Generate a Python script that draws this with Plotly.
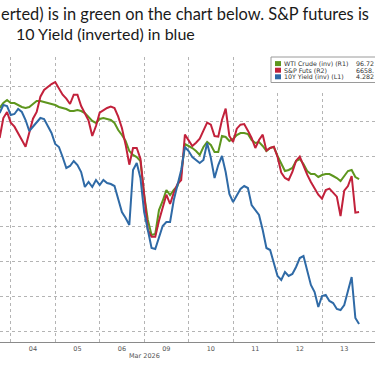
import plotly.graph_objects as go

# ---- data (hours since start of Mar 03 session; each trading day = 24h slot) ----
hours = list(range(18, 213, 2))
day_centers = [36, 60, 84, 108, 132, 156, 180, 204]
day_labels = ["04", "05", "06", "09", "10", "11", "12", "13"]
day_bounds = [24, 48, 72, 96, 120, 144, 168, 192]

wti_crude = [
    89.6, 89.1, 88.8,
    89.1, 89.1, 89.3, 89.5, 89.6, 89.5, 89.2, 88.9, 88.9, 89.0, 89.1, 89.2,
    89.3, 89.5, 89.6, 89.7, 89.9, 89.9, 89.8, 89.9, 90.1, 90.5, 90.9, 91.1,
    90.7, 90.6, 90.7, 90.8, 91.1, 91.8, 92.3, 92.9, 93.9, 94.3, 94.5, 94.9,
    98.3, 100.8, 102.3, 102.2, 99.8, 98.9, 97.8, 98.3, 97.8, 97.4, 96.2, 93.2,
    93.4, 93.6, 93.9, 94.3, 93.5, 93.0, 93.3, 94.0, 94.0, 92.4, 92.5, 92.9,
    92.7, 92.3, 92.1, 92.1, 92.2, 92.8, 93.1, 93.0, 93.4, 93.9, 93.6, 93.5,
    94.4, 95.1, 95.9, 95.8, 95.6, 94.9, 94.7, 95.2, 95.9, 96.2, 96.2, 96.5,
    96.3, 96.2, 96.2, 96.4, 96.6, 96.9, 96.4, 95.9, 95.8, 96.5, 96.72,
]
sp_futs = [
    6769, 6799, 6808,
    6792, 6786, 6777, 6766, 6756, 6777, 6798, 6808, 6831, 6841, 6846, 6850,
    6853, 6843, 6834, 6828, 6820, 6834, 6834, 6817, 6807, 6795, 6772, 6787,
    6807, 6811, 6814, 6816, 6814, 6801, 6784, 6759, 6729, 6754, 6754, 6738,
    6684, 6631, 6621, 6621, 6645, 6663, 6684, 6670, 6687, 6700, 6706, 6774,
    6766, 6757, 6762, 6768, 6780, 6792, 6789, 6772, 6771, 6796, 6813, 6772,
    6763, 6783, 6789, 6790, 6780, 6769, 6754, 6766, 6774, 6750, 6754, 6756,
    6741, 6717, 6709, 6706, 6718, 6735, 6741, 6727, 6714, 6703, 6693, 6684,
    6678, 6691, 6693, 6687, 6681, 6652, 6690, 6697, 6712, 6657, 6658,
]
ust_10y = [
    4.071, 4.063, 4.064,
    4.073, 4.072, 4.067, 4.070, 4.078, 4.089, 4.085, 4.081, 4.076, 4.077, 4.084, 4.091,
    4.102, 4.105, 4.115, 4.126, 4.124, 4.119, 4.123, 4.130, 4.145, 4.140, 4.145, 4.138,
    4.143, 4.138, 4.141, 4.142, 4.144, 4.158, 4.170, 4.176, 4.183, 4.128, 4.121, 4.136,
    4.170, 4.188, 4.206, 4.207, 4.196, 4.184, 4.180, 4.180, 4.158, 4.144, 4.128, 4.105,
    4.109, 4.115, 4.118, 4.121, 4.118, 4.101, 4.116, 4.136, 4.123, 4.114, 4.130, 4.152,
    4.160, 4.154, 4.147, 4.144, 4.146, 4.163, 4.168, 4.173, 4.188, 4.206, 4.208, 4.222,
    4.234, 4.238, 4.230, 4.234, 4.232, 4.225, 4.216, 4.214, 4.229, 4.243, 4.250, 4.265,
    4.254, 4.253, 4.259, 4.261, 4.267, 4.268, 4.263, 4.248, 4.235, 4.276, 4.282,
]

legend_names = ["WTI Crude (inv) (R1)", "S&P Futs (R2)", "10Y Yield (inv) (L1)"]
legend_values = ["96.72", "6658.", "4.282"]
title_lines = ["erted) is in green on the chart below. S&P futures is",
               "10 Yield (inverted) in blue"]

GREEN, RED, BLUE = "#5e961e", "#c2213b", "#2f6aa6"

W, H = 375, 366
T, B = 57, 24
PH = H - T - B
SMALL = "DejaVu Sans, Verdana, sans-serif"


def xp(x):
    return x / W


def yp(y):
    return (H - B - y) / PH


fig = go.Figure()
fig.add_trace(go.Scatter(x=hours, y=wti_crude, yaxis="y", mode="lines",
                         line=dict(color=GREEN, width=2), name=legend_names[0],
                         showlegend=False))
fig.add_trace(go.Scatter(x=hours, y=sp_futs, yaxis="y2", mode="lines",
                         line=dict(color=RED, width=2), name=legend_names[1],
                         showlegend=False))
fig.add_trace(go.Scatter(x=hours, y=ust_10y, yaxis="y3", mode="lines",
                         line=dict(color=BLUE, width=2), name=legend_names[2],
                         showlegend=False))

grid = "#b4b4b4"
fig.update_layout(
    width=W, height=H,
    margin=dict(l=0, r=0, t=T, b=B),
    paper_bgcolor="white", plot_bgcolor="white",
    showlegend=False,
    xaxis=dict(range=[18.2, 220.6], tickmode="array", tickvals=day_centers,
               ticktext=day_labels, showgrid=False, zeroline=False,
               showline=True, linecolor="#8a8a8a", linewidth=1, ticks="",
               ticklabelstandoff=0,
               tickfont=dict(family=SMALL, size=6.5, color="#555"),
               minor=dict(tickmode="array", tickvals=day_bounds, showgrid=True,
                          gridcolor=grid, griddash="dot", gridwidth=1, ticks="")),
    yaxis=dict(range=[113.0, 84.5], tick0=111.97, dtick=3.5, showgrid=True,
               gridcolor=grid, griddash="dot", gridwidth=1, zeroline=False,
               showticklabels=False, ticks=""),
    yaxis2=dict(range=[6463, 6890.5], overlaying="y", side="right",
                showgrid=False, zeroline=False, showticklabels=False, ticks=""),
    yaxis3=dict(range=[4.300, 4.015], overlaying="y", side="right",
                showgrid=False, zeroline=False, showticklabels=False, ticks=""),
)

# legend box
fig.add_shape(type="rect", xref="paper", yref="paper", x0=xp(270), x1=xp(380),
              y0=yp(90), y1=yp(57), fillcolor="white", line=dict(width=0), layer="above")
fig.add_shape(type="rect", xref="paper", yref="paper", x0=xp(271), x1=xp(380),
              y0=yp(82.5), y1=yp(57), fillcolor="white",
              line=dict(color="#9a9a9a", width=1), layer="above")
rows = [63.6, 70.2, 76.8]
for name, val, col, ry in zip(legend_names, legend_values, [GREEN, RED, BLUE], rows):
    fig.add_shape(type="rect", xref="paper", yref="paper", x0=xp(275), x1=xp(281),
                  y0=yp(ry + 2.5), y1=yp(ry - 2.5), fillcolor=col,
                  line=dict(width=0), layer="above")
    fig.add_annotation(text=name, xref="paper", yref="paper", x=xp(283), y=yp(ry),
                       xanchor="left", yanchor="middle", showarrow=False, borderpad=0,
                       font=dict(family=SMALL, size=6.3, color="#333"))
    fig.add_annotation(text=val, xref="paper", yref="paper", x=xp(375), y=yp(ry),
                       xanchor="right", yanchor="middle", showarrow=False, borderpad=0,
                       font=dict(family=SMALL, size=6.3, color="#333"))

# month label
fig.add_annotation(text="Mar 2026", xref="x", yref="paper", x=96, y=yp(356),
                   xanchor="center", yanchor="middle", showarrow=False,
                   font=dict(family=SMALL, size=6.5, color="#555"))

# title text (cropped slide text)
fig.add_annotation(text=title_lines[0], xref="paper", yref="paper", x=xp(-1), y=yp(14),
                   xanchor="left", yanchor="middle", showarrow=False,
                   font=dict(family="Lato", size=16.4, color="#1a1a1a"))
fig.add_annotation(text=title_lines[1], xref="paper", yref="paper", x=xp(14), y=yp(34),
                   xanchor="left", yanchor="middle", showarrow=False,
                   font=dict(family="Lato", size=16.0, color="#1a1a1a"))

fig.write_html("out.html", config={"displayModeBar": False},
               post_script="document.body.style.margin='0';")
